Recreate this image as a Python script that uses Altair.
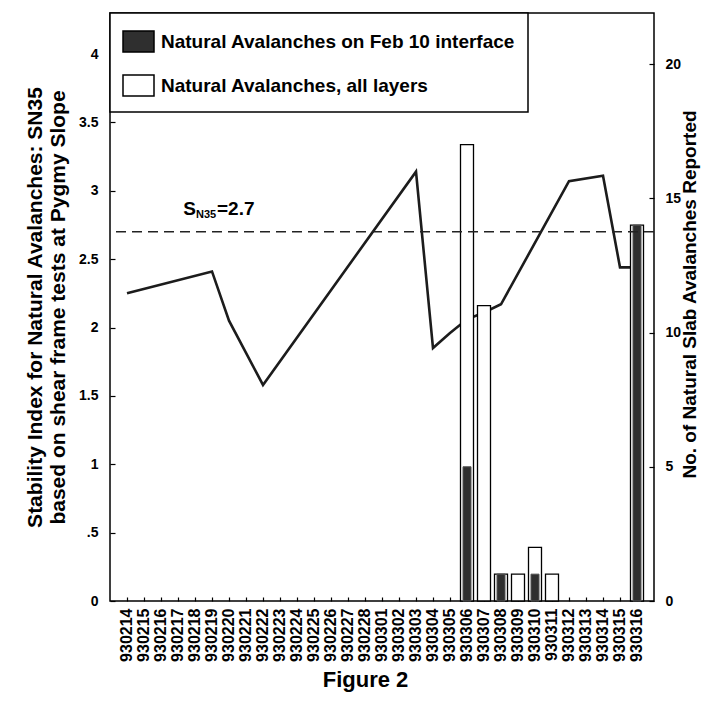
import altair as alt
import pandas as pd

# ---- data ----
DATES = ["930214", "930215", "930216", "930217", "930218", "930219", "930220",
         "930221", "930222", "930223", "930224", "930225", "930226", "930227",
         "930228", "930301", "930302", "930303", "930304", "930305", "930306",
         "930307", "930308", "930309", "930310", "930311", "930312", "930313",
         "930314", "930315", "930316"]

SI_DATES = ["930214", "930219", "930220", "930222", "930303", "930304", "930305",
            "930306", "930307", "930308", "930312", "930314", "930315", "930316"]
SI_VALUES = [2.25, 2.41, 2.05, 1.58, 3.14, 1.85, 1.96,
             2.06, 2.11, 2.17, 3.07, 3.11, 2.44, 2.44]

BAR_DATES = ["930306", "930307", "930308", "930309", "930310", "930311", "930316"]
ALL_LAYERS = [17, 11, 1, 1, 2, 1, 14]
FEB10 = [5, 0, 1, 0, 1, 0, 14]

SERIES = ["Natural Avalanches on Feb 10 interface", "Natural Avalanches, all layers"]
THRESHOLD = 2.7
LEFT_TICKS = [0, 0.5, 1, 1.5, 2, 2.5, 3, 3.5, 4]
RIGHT_TICKS = [0, 5, 10, 15, 20]

ANNOT_DATE = "930218"
ANNOT_Y = 2.82

FONT = "Liberation Sans"

si_df = pd.DataFrame({"date": SI_DATES, "si": SI_VALUES})
bar_df = pd.DataFrame({
    "date": BAR_DATES + BAR_DATES,
    "series": [SERIES[0]] * len(BAR_DATES) + [SERIES[1]] * len(BAR_DATES),
    "count": FEB10 + ALL_LAYERS,
})
thr_df = pd.DataFrame({"t": [THRESHOLD]})
ann_df = pd.DataFrame({"date": [ANNOT_DATE], "y": [ANNOT_Y]})

x_axis = alt.Axis(
    title="Figure 2", labelAngle=270, labelFont=FONT, labelFontSize=16,
    labelFontWeight="bold", labelColor="black", labelPadding=7,
    tickSize=4, tickColor="black", tickWidth=1.2, offset=-4, domain=False,
    titleFont=FONT, titleFontSize=22, titleFontWeight="bold", titleColor="black",
    titleX=255, titleY=89, titleAlign="center", titleBaseline="alphabetic",
)
x_scale = alt.Scale(type="band", domain=DATES, paddingInner=0, paddingOuter=0.5)
x_enc = alt.X("date:O", scale=x_scale, axis=x_axis)

left_scale = alt.Scale(domain=[0, 4.3], nice=False, zero=True)
right_scale = alt.Scale(domain=[0, 21.9], nice=False, zero=True)

left_axis = alt.Axis(
    orient="left", values=LEFT_TICKS, format="~g",
    labelExpr="datum.value == 0.5 ? '.5' : datum.label",
    labelFont=FONT, labelFontSize=14, labelFontWeight="bold", labelColor="black",
    labelPadding=12, tickSize=5, tickColor="black", tickWidth=1.2, offset=-5,
    domain=False, grid=False,
    title=["Stability Index for Natural Avalanches: SN35",
           "based on shear frame tests at Pygmy Slope"],
    titleFont=FONT, titleFontSize=21, titleFontWeight="bold", titleColor="black",
    titleAngle=270, titleX=-80, titleY=294, titleAlign="center",
    titleBaseline="middle", titleLineHeight=23,
)
right_axis = alt.Axis(
    orient="right", values=RIGHT_TICKS, format="d",
    labelFont=FONT, labelFontSize=14, labelFontWeight="bold", labelColor="black",
    labelPadding=11, tickSize=5, tickColor="black", tickWidth=1.2, offset=-5,
    domain=False, grid=False,
    title="No. of Natural Slab Avalanches Reported",
    titleFont=FONT, titleFontSize=19, titleFontWeight="bold", titleColor="black",
    titleAngle=270, titleX=40, titleY=281, titleAlign="center",
    titleBaseline="middle",
)

fill_enc = alt.Fill(
    "series:N",
    scale=alt.Scale(domain=SERIES, range=["#2f2f2f", "white"]),
    legend=alt.Legend(title=None, orient="top-left", offset=0),
)

line = alt.Chart(si_df).mark_line(color="#1c1c1c", strokeWidth=2.6).encode(
    x=x_enc,
    y=alt.Y("si:Q", scale=left_scale, axis=left_axis),
)

white_bars = alt.Chart(bar_df).transform_filter(
    (alt.datum.series == SERIES[1]) & (alt.datum["count"] > 0)
).mark_bar(size=13, stroke="black", strokeWidth=1.3).encode(
    x=x_enc,
    y=alt.Y("count:Q", scale=right_scale, axis=right_axis),
    fill=fill_enc,
)

dark_bars = alt.Chart(bar_df).transform_filter(
    (alt.datum.series == SERIES[0]) & (alt.datum["count"] > 0)
).mark_bar(size=8, stroke="#555555", strokeWidth=1.0).encode(
    x=x_enc,
    y=alt.Y("count:Q", scale=right_scale, axis=None),
    fill=fill_enc,
)

rule = alt.Chart(thr_df).mark_rule(color="#222222", strokeWidth=1.6, strokeDash=[10, 6]).encode(
    y=alt.Y("t:Q", scale=left_scale, axis=None),
)

txt_kw = dict(font=FONT, fontWeight="bold", color="black", baseline="alphabetic")
ann_s = alt.Chart(ann_df).mark_text(text="S", align="right", dx=1, fontSize=19, **txt_kw).encode(
    x=x_enc, y=alt.Y("y:Q", scale=left_scale, axis=None))
ann_sub = alt.Chart(ann_df).mark_text(text="N35", align="left", dx=1, dy=3, fontSize=11, **txt_kw).encode(
    x=x_enc, y=alt.Y("y:Q", scale=left_scale, axis=None))
ann_eq = alt.Chart(ann_df).mark_text(text="=2.7", align="left", dx=22, fontSize=19, **txt_kw).encode(
    x=x_enc, y=alt.Y("y:Q", scale=left_scale, axis=None))

chart = alt.layer(
    line, white_bars, dark_bars, rule, ann_s, ann_sub, ann_eq
).resolve_scale(
    y="independent"
).properties(
    width=544, height=588,
    padding={"left": 102, "top": 5, "right": 47, "bottom": 92},
    autosize=alt.AutoSizeParams(type="none"),
    background="white",
).configure_view(
    stroke="black", strokeWidth=1.5
).configure_legend(
    strokeColor="black", strokeWidth=1.5, fillColor="white", padding=12,
    rowPadding=13, symbolType="M-1,-0.68H1V0.68H-1Z", symbolSize=961,
    symbolStrokeColor="black", symbolStrokeWidth=1.5, symbolOpacity=1,
    labelFont=FONT, labelFontSize=19, labelFontWeight="bold", labelColor="black",
    labelLimit=600, labelOffset=6,
)

chart.save("out.html", embed_options={"renderer": "svg", "actions": False})
